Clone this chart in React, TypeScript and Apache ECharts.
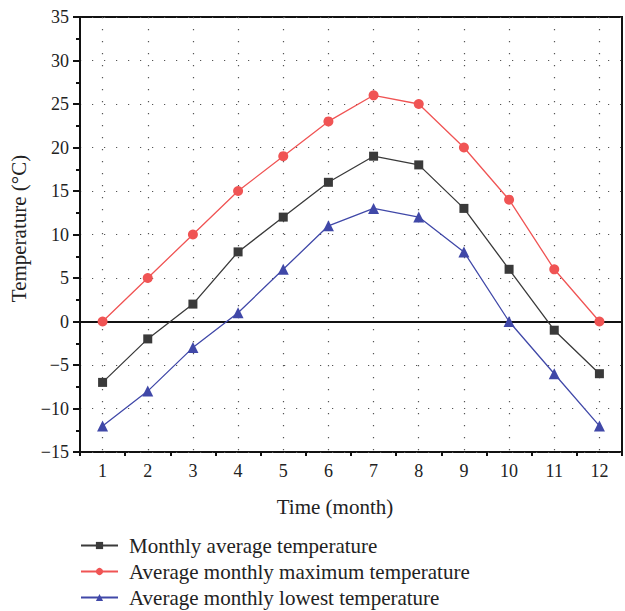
import React, { useEffect, useRef } from "react";
import * as echarts from "echarts";

const months = ["1", "2", "3", "4", "5", "6", "7", "8", "9", "10", "11", "12"];
const avgTemp = [-7, -2, 2, 8, 12, 16, 19, 18, 13, 6, -1, -6];
const maxTemp = [0, 5, 10, 15, 19, 23, 26, 25, 20, 14, 6, 0];
const minTemp = [-12, -8, -3, 1, 6, 11, 13, 12, 8, 0, -6, -12];
const seriesNames = [
  "Monthly average temperature",
  "Average monthly maximum temperature",
  "Average monthly lowest temperature",
];

const FONT = "'Liberation Serif', 'DejaVu Serif', serif";
const dotted = { color: "#555", width: 1.2, type: [1.2, 10.8] as number[] };

export default function App() {
  const ref = useRef<HTMLDivElement>(null);
  useEffect(() => {
    if (!ref.current) return;
    const chart = echarts.init(ref.current, undefined, { renderer: "svg" });
    chart.setOption({
      animation: false,
      backgroundColor: "#fff",
      textStyle: { fontFamily: FONT },
      grid: {
        left: 80,
        right: 3,
        top: 17,
        bottom: 159,
        show: true,
        borderColor: "#111",
        borderWidth: 2,
      },
      legend: {
        orient: "vertical",
        left: 80,
        top: 535,
        padding: 0,
        itemWidth: 37,
        itemHeight: 9,
        itemGap: 5,
        textStyle: { fontFamily: FONT, fontSize: 21, color: "#222", padding: [0, 0, 0, 6] },
        data: seriesNames,
      },
      xAxis: [
        {
          type: "category",
          data: months,
          boundaryGap: true,
          name: "Time (month)",
          nameLocation: "middle",
          nameGap: 44,
          nameTextStyle: { fontFamily: FONT, fontSize: 21, color: "#222", padding: [0, 32, 0, 0] },
          axisLine: { lineStyle: { color: "#111", width: 2 } },
          axisTick: { alignWithLabel: true, length: 7, lineStyle: { color: "#111", width: 2 } },
          axisLabel: { fontFamily: FONT, fontSize: 18, color: "#222", margin: 10 },
          splitLine: { show: true, alignWithLabel: true, lineStyle: dotted },
        },
        {
          type: "category",
          data: months,
          boundaryGap: true,
          position: "bottom",
          axisLine: { show: false },
          axisTick: { show: true, length: 4, lineStyle: { color: "#111", width: 2 } },
          axisLabel: { show: false },
          splitLine: { show: false },
        },
      ],
      yAxis: {
        type: "value",
        min: -15,
        max: 35,
        interval: 5,
        name: "Temperature (°C)",
        nameLocation: "middle",
        nameGap: 47,
        nameTextStyle: { fontFamily: FONT, fontSize: 21, color: "#222", padding: [0, 0, 0, 12] },
        axisLine: { show: true, lineStyle: { color: "#111", width: 2 } },
        axisTick: { show: true, length: 7, lineStyle: { color: "#111", width: 2 } },
        minorTick: { show: true, splitNumber: 2, length: 4, lineStyle: { color: "#111", width: 2 } },
        axisLabel: {
          fontFamily: FONT,
          fontSize: 18,
          color: "#222",
          margin: 11,
          formatter: (v: number) => (v < 0 ? "\u2212" + Math.abs(v) : String(v)),
        },
        splitLine: { show: true, lineStyle: dotted },
      },
      series: [
        {
          name: seriesNames[0],
          type: "line",
          data: avgTemp,
          symbol: "rect",
          symbolSize: 9,
          color: "#3a3a3a",
          lineStyle: { width: 1.3, color: "#3a3a3a" },
          z: 5,
          markLine: {
            silent: true,
            symbol: "none",
            label: { show: false },
            lineStyle: { color: "#111", width: 2, type: "solid" },
            data: [{ yAxis: 0 }],
          },
        },
        {
          name: seriesNames[1],
          type: "line",
          data: maxTemp,
          symbol: "circle",
          symbolSize: 10,
          color: "#f05454",
          lineStyle: { width: 1.3, color: "#f05454" },
          z: 5,
        },
        {
          name: seriesNames[2],
          type: "line",
          data: minTemp,
          symbol: "triangle",
          symbolSize: 11,
          color: "#4048a8",
          lineStyle: { width: 1.3, color: "#4048a8" },
          z: 5,
        },
      ],
    });
    return () => chart.dispose();
  }, []);
  return (
    <div
      ref={ref}
      style={{ position: "fixed", left: 0, top: 0, width: 625, height: 611 }}
    />
  );
}
